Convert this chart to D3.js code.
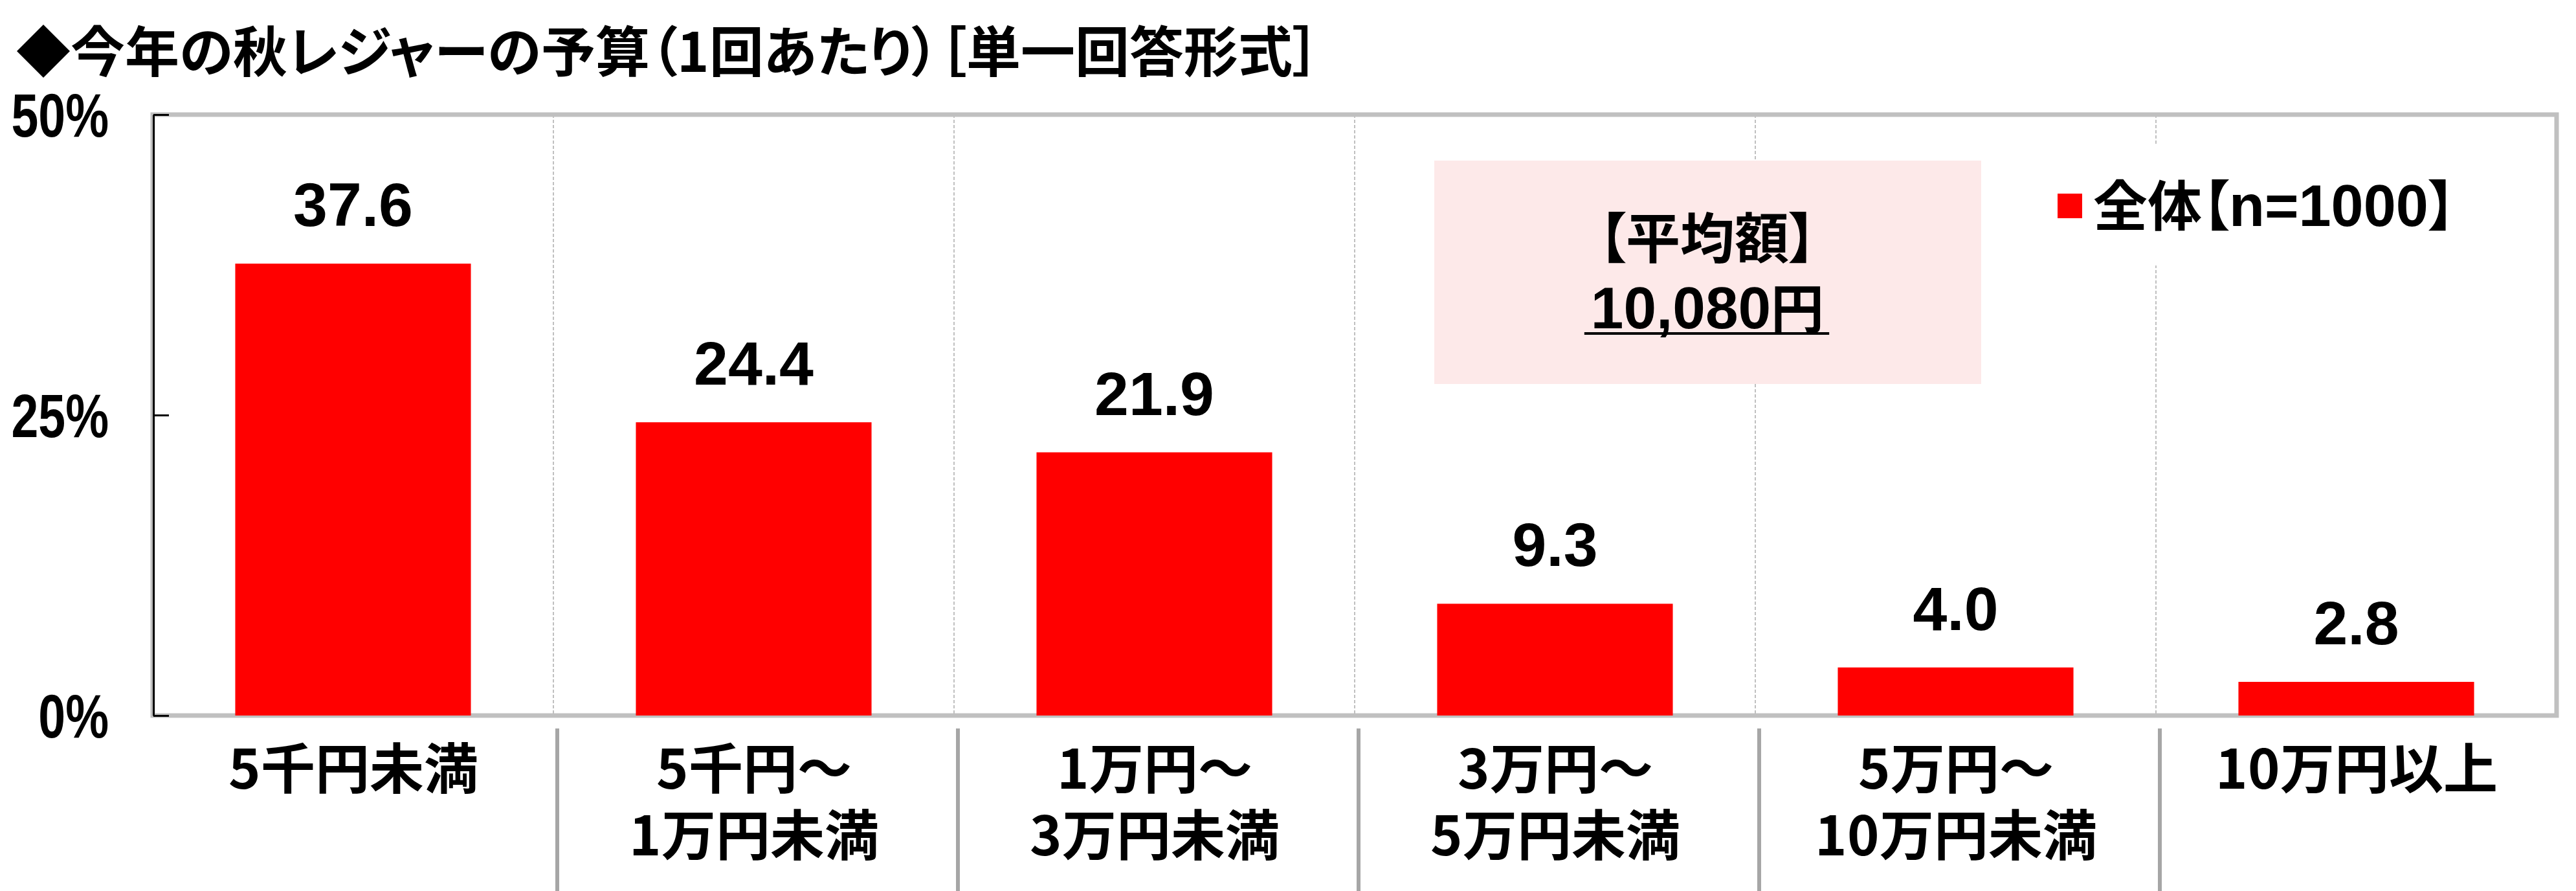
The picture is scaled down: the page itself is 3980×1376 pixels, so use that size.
<!DOCTYPE html>
<html><head><meta charset="utf-8">
<script src="https://cdn.jsdelivr.net/npm/d3@7"></script>
<style>
@font-face{font-family:"CJKTight";src:local("Noto Sans CJK JP Bold"),local("NotoSansCJKjp-Bold");font-weight:bold;ascent-override:88%;descent-override:12%;line-gap-override:0%;}
html,body{margin:0;padding:0;background:#fff;}
svg{display:block;}
.cjk{font-family:"CJKTight","Noto Sans CJK JP","Noto Sans CJK SC",sans-serif;font-weight:bold;font-feature-settings:"palt";}
.num{font-family:"Liberation Sans",Arial,sans-serif;font-weight:bold;}
</style></head><body>
<svg id="chart" width="3980" height="1376"></svg>
<script>
const title = "◆今年の秋レジャーの予算（1回あたり）［単一回答形式］";
const categories = ["5千円未満","5千円～1万円未満","1万円～3万円未満","3万円～5万円未満","5万円～10万円未満","10万円以上"];
const categoryLines = [["5千円未満"],["5千円～","1万円未満"],["1万円～","3万円未満"],["3万円～","5万円未満"],["5万円～","10万円未満"],["10万円以上"]];
const values = [37.6,24.4,21.9,9.3,4.0,2.8];
const yTicks = [0,25,50];
const yMax = 50;
const seriesName = "全体【";
const sampleLabel = "n=1000";
const seriesClose = "】";
const avgTitle = "【平均額】";
const avgValue = "10,080";
const avgUnit = "円";

const svg = d3.select("#chart");
const M = {left:236, right:3950, top:177, bottom:1105};
const x = d3.scaleBand().domain(categories).range([M.left, M.right])
  .paddingInner(0.4118).paddingOuter(0.2059);
const y = d3.scaleLinear().domain([0, yMax]).range([M.bottom, M.top]);
const step = x.step();
const boundaries = categories.slice(1).map(c => x(c) - x.paddingInner()*step/2);

// dashed vertical gridlines
svg.append("g").selectAll("line").data(boundaries).join("line")
  .attr("x1", d => d).attr("x2", d => d)
  .attr("y1", y(yMax)).attr("y2", y(0))
  .attr("stroke", "#c0c0c0").attr("stroke-width", 2).attr("stroke-dasharray", "5,3");

// plot frame
svg.append("rect").attr("x", M.left).attr("y", M.top)
  .attr("width", M.right - M.left).attr("height", M.bottom - M.top)
  .attr("fill", "none").attr("stroke", "#c0c0c0").attr("stroke-width", 7);

// average box
svg.append("rect").attr("x", 2216).attr("y", 248).attr("width", 845).attr("height", 345)
  .attr("fill", "#fde9e9");

// legend background
svg.append("rect").attr("x", 3160).attr("y", 223).attr("width", 660).attr("height", 187)
  .attr("fill", "#ffffff");

// bars
svg.append("g").selectAll("rect").data(values).join("rect")
  .attr("x", (d,i) => x(categories[i]))
  .attr("y", d => y(d))
  .attr("width", x.bandwidth())
  .attr("height", d => y(0) - y(d))
  .attr("fill", "#ff0000");

// y axis
const yAxis = svg.append("g").attr("transform", `translate(${M.left+1},0)`)
  .call(d3.axisLeft(y).tickValues(yTicks).tickSizeInner(-24).tickSizeOuter(0)
    .tickFormat(d => d + "%").tickPadding(68));
yAxis.select(".domain").attr("stroke", "#000").attr("stroke-width", 3);
yAxis.selectAll(".tick line").attr("stroke", "#000").attr("stroke-width", 3);
yAxis.attr("font-size", null).attr("font-family", null);
yAxis.selectAll(".tick text").attr("class", "num").attr("fill", "#000")
  .attr("font-size", 94).attr("x", 0).attr("dy", "0.36em")
  .attr("transform", "translate(-69,0) scale(0.8,1)");

// value labels
svg.append("g").selectAll("text").data(values).join("text")
  .attr("class", "num").attr("font-size", 95).attr("text-anchor", "middle")
  .attr("x", (d,i) => x(categories[i]) + x.bandwidth()/2)
  .attr("y", d => y(d) - 58)
  .text(d => d3.format(".1f")(d));

// category labels
const lineBase = [1218, 1321];
const xl = svg.append("g");
categoryLines.forEach((lines, i) => {
  const t = xl.append("text").attr("class", "cjk").attr("font-size", 84)
    .attr("text-anchor", "middle");
  lines.forEach((ln, j) => {
    t.append("tspan").attr("x", x(categories[i]) + x.bandwidth()/2)
      .attr("y", lineBase[j]).text(ln);
  });
});

// separators below axis
svg.append("g").selectAll("line").data(boundaries).join("line")
  .attr("x1", d => d + 6).attr("x2", d => d + 6)
  .attr("y1", 1125).attr("y2", 1376)
  .attr("stroke", "#a6a6a6").attr("stroke-width", 6);

// title
svg.append("text").attr("class", "cjk").attr("font-size", 84)
  .attr("x", 25).attr("y", 111).text(title);

// legend
svg.append("rect").attr("x", 3179).attr("y", 299).attr("width", 38).attr("height", 38)
  .attr("fill", "#ff0000");
const lg = svg.append("text").attr("x", 3234).attr("y", 349);
lg.append("tspan").attr("class", "cjk").attr("font-size", 84).text(seriesName);
lg.append("tspan").attr("class", "num").attr("font-size", 90).text(sampleLabel);
lg.append("tspan").attr("class", "cjk").attr("font-size", 84).text(seriesClose);

// average box text
svg.append("text").attr("class", "cjk").attr("font-size", 84)
  .attr("text-anchor", "middle").attr("x", 2638).attr("y", 399).text(avgTitle);
const av = svg.append("text").attr("text-anchor", "middle").attr("x", 2638).attr("y", 507);
av.append("tspan").attr("class", "num").attr("font-size", 91).text(avgValue);
av.append("tspan").attr("class", "cjk").attr("font-size", 82).text(avgUnit);
const bb = av.node().getBBox();
svg.append("line").attr("x1", bb.x - 10).attr("x2", bb.x + bb.width + 8)
  .attr("y1", 515).attr("y2", 515).attr("stroke", "#000").attr("stroke-width", 4);
</script>
</body></html>
